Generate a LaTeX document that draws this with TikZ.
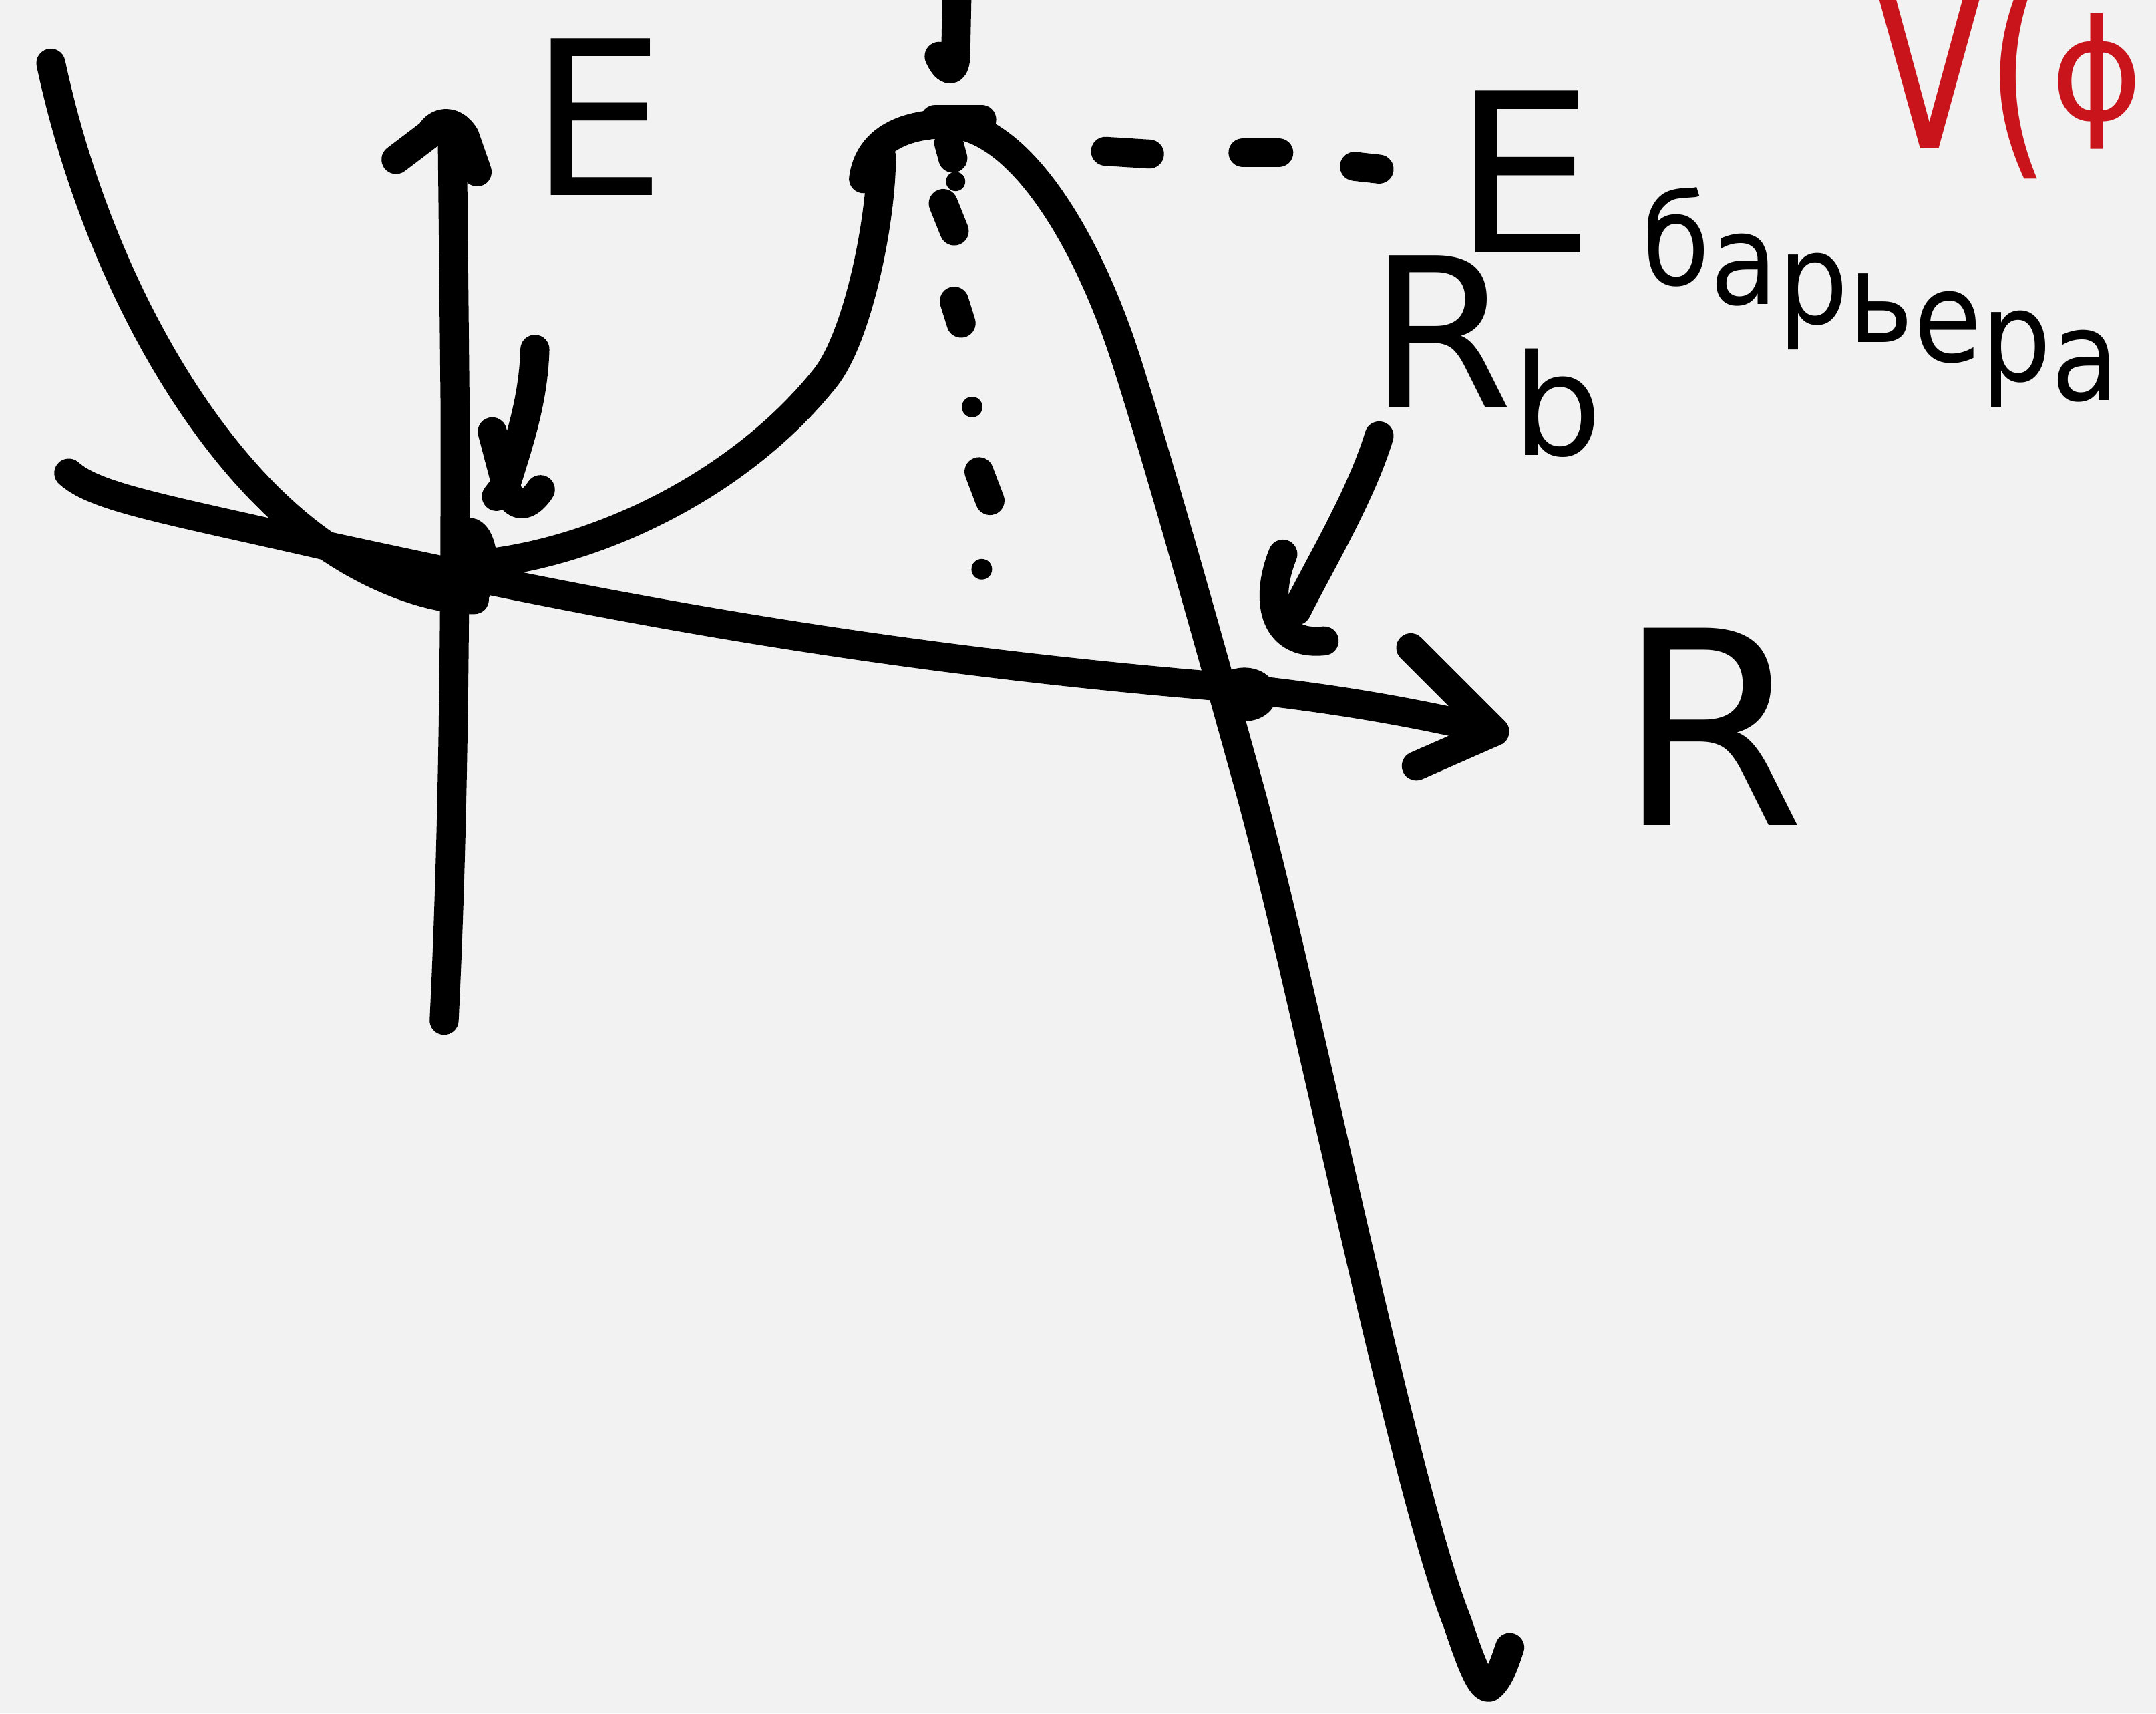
\documentclass[tikz,border=0pt]{standalone}
\usepackage{fontspec}
\setmainfont{DejaVu Sans}
\usepackage{graphicx}
\definecolor{paper}{HTML}{F2F2F2}
\definecolor{inkred}{HTML}{C8141A}

\begin{document}
\begin{tikzpicture}[x=0.2mm, y=-0.2mm,
    pen/.style={line width=12pt, line cap=round, line join=round},
    lbl/.style={inner sep=0pt, anchor=base west}]
  \useasboundingbox (0,0) rectangle (1568,1246);
  \fill[paper] (0,0) rectangle (1568,1246);
  \clip (0,0) rectangle (1568,1246);

  \coordinate (O) at (341,410);
  \coordinate (Rtip) at (1087,532);
  \coordinate (X) at (905,505);

  % axes
  \draw[pen] (323,742) .. controls (330,600) and (331,450) .. (331,300) -- (329,105);
  \draw[pen] (288,116) -- (313,97) .. controls (318,88) and (330,86) .. (338,99) -- (347,125);
  \draw[pen] (50,344) .. controls (70,362) and (120,370) .. (242,398)
      .. controls (400,432) and (600,475) .. (885,499)
      .. controls (960,506) and (1030,518) .. (Rtip);
  \draw[pen] (1026,471) -- (Rtip) -- (1030,557);

  % potential
  \draw[pen] (37,46) .. controls (70,200) and (150,340) .. (242,400)
      .. controls (280,425) and (320,437) .. (345,436);
  \draw[pen] (352,410) .. controls (440,400) and (540,350) .. (600,275)
      .. controls (624,245) and (641,160) .. (641,114);
  \draw[pen] (628,130) .. controls (632,100) and (660,90) .. (690,90)
      .. controls (740,92) and (790,170) .. (820,265)
      .. controls (845,344) and (880,470) .. (905,560)
      .. controls (945,700) and (1020,1080) .. (1060,1180)
      .. controls (1070,1210) and (1077,1228) .. (1083,1227)
      .. controls (1090,1222) and (1094,1210) .. (1098,1198);
  \draw[pen] (O) ellipse [x radius=10, y radius=23];
  \draw[pen] (X) ellipse [x radius=13, y radius=9];

  % barrier top
  \draw[pen] (696,-5) -- (695,42) .. controls (694,54) and (688,52) .. (683,41);
  \draw[pen] (680,87) -- (714,87);
  \draw[pen] (690,104) -- (693,115);
  \fill (695,132) circle [radius=7];
  \draw[pen] (686,148) -- (694,168);
  \draw[pen] (694,219) -- (699,235);
  \fill (707,296) circle [radius=7.5];
  \draw[pen] (712,343) -- (720,364);
  \fill (714,414) circle [radius=7.5];
  \draw[pen] (804,110) -- (836,112);
  \draw[pen] (904,111) -- (930,111);
  \draw[pen] (985,121) -- (1003,123);

  % pointers
  \draw[pen] (389,254) .. controls (388,290) and (378,320) .. (368,352);
  \draw[pen] (358,314) -- (368,352) -- (361,361);
  \draw[pen] (368,355) .. controls (375,372) and (385,368) .. (393,356);
  \draw[pen] (1003,317) .. controls (990,360) and (960,410) .. (943,444);
  \draw[pen] (933,403) .. controls (920,435) and (925,470) .. (963,466);

  % labels
  \node[lbl, font=\fontsize{89}{90}\selectfont] (Elabel) at (385,142) {E};
  \node[lbl, font=\fontsize{92}{94}\selectfont] (Ebar) at (1057,184) {E};
  \node[lbl, font=\fontsize{52}{54}\selectfont] (barword) at (1194,207)
      {\scalebox{0.88}[1]{б\raisebox{-8pt}{а}\raisebox{-16pt}{р}\raisebox{-24pt}{ь}\raisebox{-32pt}{е}\raisebox{-40pt}{р}\raisebox{-48pt}{а}}};
  \node[lbl, font=\fontsize{86}{88}\selectfont] (Rb) at (995,296)
      {R\raisebox{-7mm}{\fontsize{58}{60}\selectfont b}};
  \node[lbl, font=\fontsize{112}{114}\selectfont] (Rlabel) at (1176,600) {R};
  \node[lbl, text=inkred, font=\fontsize{95}{96}\selectfont] (Vphi) at (1362,108)
      {\scalebox{0.72}[1]{V(}\raisebox{4.2mm}{\fontsize{58}{60}\selectfont ϕ}};
\end{tikzpicture}
\end{document}
